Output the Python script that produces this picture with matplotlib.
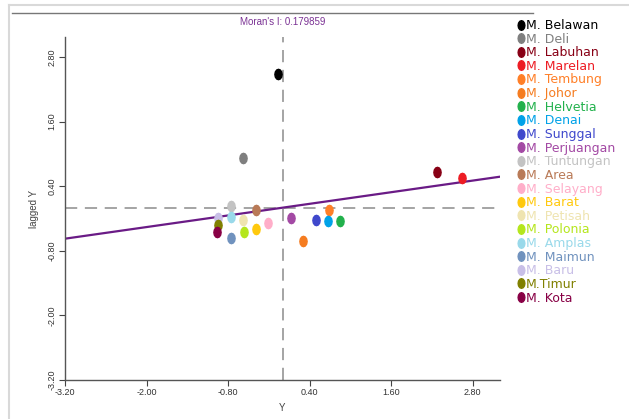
import numpy as np
import matplotlib
matplotlib.use("Agg")
import matplotlib.pyplot as plt
from matplotlib.path import Path
from matplotlib.lines import Line2D

# Moran scatter data (standardised Y vs spatially lagged Y)
names = ['M. Belawan', 'M. Deli', 'M. Labuhan', 'M. Marelan', 'M. Tembung',
         'M. Johor', 'M. Helvetia', 'M. Denai', 'M. Sunggal', 'M. Perjuangan',
         'M. Tuntungan', 'M. Area', 'M. Selayang', 'M. Barat', 'M. Petisah',
         'M. Polonia', 'M. Amplas', 'M. Maimun', 'M. Baru', 'M.Timur', 'M. Kota']
y_vals = [-0.06, -0.58, 2.27, 2.64, 0.68,
          0.30, 0.85, 0.67, 0.49, 0.12,
          -0.76, -0.39, -0.22, -0.39, -0.58,
          -0.57, -0.76, -0.76, -0.95, -0.95, -0.97]
lag_vals = [2.48, 0.93, 0.67, 0.56, -0.04,
            -0.62, -0.25, -0.25, -0.23, -0.19,
            0.04, -0.04, -0.29, -0.40, -0.23,
            -0.46, -0.17, -0.56, -0.19, -0.33, -0.46]
colors = ['#000000', '#7f7f7f', '#880015', '#ed1c24', '#ff7f27',
          '#f57c20', '#22b14c', '#00a2e8', '#3f48cc', '#a349a4',
          '#c3c3c3', '#b97a57', '#ffaec9', '#ffc90e', '#efe4b0',
          '#b5e61d', '#99d9ea', '#7092be', '#c8bfe7', '#808000', '#880045']
morans_i = 0.179859
ticks = [-3.20, -2.00, -0.80, 0.40, 1.60, 2.80]

# tall oval marker
t = np.linspace(0, 2 * np.pi, 13)
oval = Path(np.column_stack([0.7 * np.cos(t), np.sin(t)]), closed=True)

fig = plt.figure(figsize=(6.29, 4.19), dpi=100)
ax = fig.add_axes([65 / 629, 1 - 380 / 419, 435 / 629, 343 / 419])

ax.axvline(0, color='#8c8c8c', lw=1.1, dashes=(8, 5), zorder=1)
ax.axhline(0, color='#8c8c8c', lw=1.1, dashes=(8, 5), zorder=1)

xs = np.array([-3.2, 3.2])
ax.plot(xs, morans_i * xs, color='#6a1b86', lw=1.6, zorder=2)

handles = []
for nm, xv, yv, c in zip(names, y_vals, lag_vals, colors):
    ax.plot(xv, yv, linestyle='none', marker=oval, ms=7.5, color=c, mec=c, zorder=3)
    handles.append(Line2D([], [], linestyle='none', marker=oval, ms=7, color=c, mec=c, label=nm))

ax.set_xlim(-3.2, 3.2)
ax.set_ylim(-3.2, 3.17)
ax.set_xticks(ticks)
ax.set_yticks(ticks)
ax.set_xticklabels([f'{v:.2f}' for v in ticks], fontsize=6.5, color='#333333', family='Liberation Sans')
ax.set_yticklabels([f'{v:.2f}' for v in ticks], fontsize=6.5, color='#333333', family='Liberation Sans',
                   rotation=90, va='center')
ax.tick_params(direction='out', length=4, width=0.8, color='#444444', pad=2)
for s in ['top', 'right']:
    ax.spines[s].set_visible(False)
for s in ['left', 'bottom']:
    ax.spines[s].set_color('#555555')
    ax.spines[s].set_linewidth(1.0)

ax.set_xlabel('Y', fontsize=7, color='#444444', family='Liberation Sans', labelpad=4)
ax.set_ylabel('lagged Y', fontsize=7, color='#444444', family='Liberation Sans', labelpad=6)
fig.text(282.5 / 629, 1 - 22 / 419, f"Moran's I: {morans_i}", ha='center', va='center',
         fontsize=7, color='#7b3294', family='Liberation Sans')

leg = fig.legend(handles=handles, loc='upper left', bbox_to_anchor=(518 / 629, 1 - 19 / 419),
                 frameon=False, handlelength=0.45, handletextpad=0.15,
                 labelspacing=0.05, borderaxespad=0, borderpad=0,
                 prop={'family': 'DejaVu Sans', 'size': 9})
for txt, c in zip(leg.get_texts(), colors):
    txt.set_color(c)

# screenshot frame lines
fig.add_artist(Line2D([9 / 629, 1], [1 - 5 / 419] * 2, color='#d9d9d9', lw=1.5))
fig.add_artist(Line2D([9 / 629] * 2, [0, 1 - 5 / 419], color='#d9d9d9', lw=1.5))
fig.add_artist(Line2D([12 / 629, 533 / 629], [1 - 13 / 419] * 2, color='#777777', lw=1.0))

fig.savefig('out.png', dpi=100)
